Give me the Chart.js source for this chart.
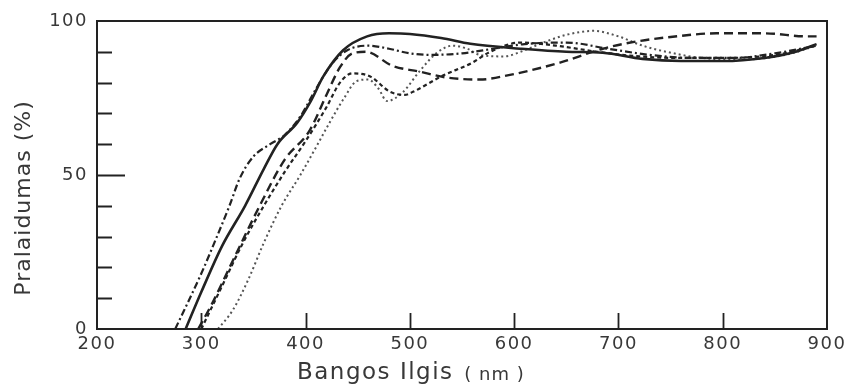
<!DOCTYPE html>
<html>
<head>
<meta charset="utf-8">
<script src="https://cdn.jsdelivr.net/npm/chart.js@4"></script>
<style>
  body { margin: 0; background: #fff; }
  canvas { display: block; }
</style>
</head>
<body>
<canvas id="spectra" width="860" height="388" style="width:860px;height:388px"></canvas>
<script>
// Transmittance spectra of five films, wavelength in nm, transmittance in %
const solidNm = [285, 300, 320, 342, 360, 373, 392, 405, 417, 436, 459, 480, 500, 530, 558, 606, 650, 685, 723, 760, 800, 840, 870, 890];
const solidT  = [0, 12, 27, 40, 52, 60, 67, 74, 82, 90.5, 95, 96, 95.8, 94.5, 92.6, 91, 90, 89.7, 87.7, 87, 87, 88, 90, 92.5];

const longDashNm = [297, 310, 330, 356, 380, 404, 420, 433, 445, 458, 483, 510, 536, 567, 596, 644, 685, 720, 750, 794, 840, 881, 890];
const longDashT  = [0, 8, 22, 40, 55, 64.5, 76, 85, 89.5, 90, 85.5, 83.5, 81.6, 81, 82.5, 86.5, 91, 93.5, 94.8, 96, 96, 95, 95];

const dashDotNm = [275, 300, 315, 327, 337, 350, 366, 380, 395, 410, 425, 440, 460, 480, 500, 520, 550, 580, 610, 650, 690, 730, 770, 810, 850, 890];
const dashDotT  = [0, 18, 30, 40, 49, 56, 60, 63, 69, 78, 86, 90.5, 92, 91, 89.5, 89, 89.5, 91, 92.5, 93, 91, 89, 88, 88, 89.5, 92];

const shortDashNm = [300, 320, 340, 360, 380, 400, 420, 433, 445, 462, 481, 495, 503, 530, 560, 577, 606, 640, 680, 720, 760, 800, 850, 890];
const shortDashT  = [0, 14, 28, 40, 51, 61, 72, 80, 83, 82, 77, 76, 77, 82, 86.5, 90, 93, 92, 90, 88.5, 88, 88, 89, 92];

const dottedNm = [316, 330, 345, 360, 377, 395, 410, 423, 437, 449, 460, 470, 478, 493, 510, 526, 541, 555, 567, 590, 610, 628, 650, 676, 700, 723, 746, 780, 820, 860, 890];
const dottedT  = [0, 6, 16, 28, 40, 50, 59, 67, 75, 80.5, 81, 78, 74, 76.8, 84, 89.7, 92, 91, 89, 88.5, 90.5, 93, 95.5, 96.8, 95, 92, 90, 88, 87.5, 89, 92];

const yLabelled = [0, 50, 100];
const xTitle = 'Bangos Ilgis';
const xUnit = '( nm )';
const yTitle = 'Pralaidumas (%)';

const ink = '#222';
const textInk = '#383838';

function points(xs, ys) {
  return xs.map((v, i) => ({ x: v, y: ys[i] }));
}

function curve(xs, ys, dash, width, color) {
  return {
    data: points(xs, ys),
    borderColor: color || ink,
    borderWidth: width,
    borderDash: dash,
    pointRadius: 0,
    fill: false,
    cubicInterpolationMode: 'monotone'
  };
}

// wide lettering for the tick numbers
const wideText = {
  id: 'wideText',
  beforeDraw(chart) { chart.ctx.letterSpacing = '1.5px'; }
};

// frame, inward tick marks and axis titles
const frameAndTicks = {
  id: 'frameAndTicks',
  afterDraw(chart) {
    const { ctx, chartArea: a, scales: { x, y } } = chart;
    ctx.save();
    ctx.strokeStyle = ink;
    ctx.lineWidth = 2;
    ctx.strokeRect(a.left, a.top, a.right - a.left, a.bottom - a.top);

    ctx.lineWidth = 1.8;
    ctx.beginPath();
    for (let v = 10; v < 100; v += 10) {
      const py = Math.round(y.getPixelForValue(v)) + 0.5;
      ctx.moveTo(a.left, py);
      ctx.lineTo(a.left + (v === 50 ? 28 : 15), py);
    }
    for (let v = 300; v < 900; v += 100) {
      const px = Math.round(x.getPixelForValue(v)) + 0.5;
      ctx.moveTo(px, a.bottom);
      ctx.lineTo(px, a.bottom - 16);
    }
    ctx.stroke();

    ctx.fillStyle = textInk;
    ctx.textBaseline = 'middle';
    ctx.textAlign = 'left';
    ctx.letterSpacing = '1.5px';
    ctx.font = '23px "DejaVu Sans"';
    ctx.fillText(xTitle, 297, 373);
    const w = ctx.measureText(xTitle + ' ').width;
    ctx.letterSpacing = '1px';
    ctx.font = '18px "DejaVu Sans"';
    ctx.fillText(xUnit, 297 + w + 2, 375);

    ctx.translate(24, 198);
    ctx.rotate(-Math.PI / 2);
    ctx.textAlign = 'center';
    ctx.letterSpacing = '1px';
    ctx.font = '22px "DejaVu Sans"';
    ctx.fillText(yTitle, 0, 0);
    ctx.restore();
  }
};

new Chart(document.getElementById('spectra'), {
  type: 'line',
  data: {
    datasets: [
      curve(solidNm, solidT, [], 2.6),
      curve(longDashNm, longDashT, [9, 5], 2.4),
      curve(dashDotNm, dashDotT, [7, 3, 2, 3], 2.2),
      curve(shortDashNm, shortDashT, [4, 3], 2.2),
      curve(dottedNm, dottedT, [2, 3], 2, '#555')
    ]
  },
  options: {
    responsive: false,
    animation: false,
    layout: { padding: { top: 21, right: 33, left: 0, bottom: 0 } },
    plugins: { legend: { display: false }, tooltip: { enabled: false } },
    scales: {
      x: {
        type: 'linear',
        min: 200,
        max: 900,
        grid: { display: false, drawTicks: false },
        border: { display: false },
        ticks: {
          stepSize: 100,
          padding: 5,
          color: textInk,
          font: { family: 'DejaVu Sans', size: 18 }
        },
        afterFit(scale) { scale.height = 59; }
      },
      y: {
        min: 0,
        max: 100,
        grid: { display: false, drawTicks: false },
        border: { display: false },
        ticks: {
          stepSize: 10,
          autoSkip: false,
          padding: 9,
          color: textInk,
          font: { family: 'DejaVu Sans', size: 18 },
          callback: v => (yLabelled.includes(v) ? v : '')
        },
        afterFit(scale) { scale.width = 97; }
      }
    }
  },
  plugins: [wideText, frameAndTicks]
});
</script>
</body>
</html>
